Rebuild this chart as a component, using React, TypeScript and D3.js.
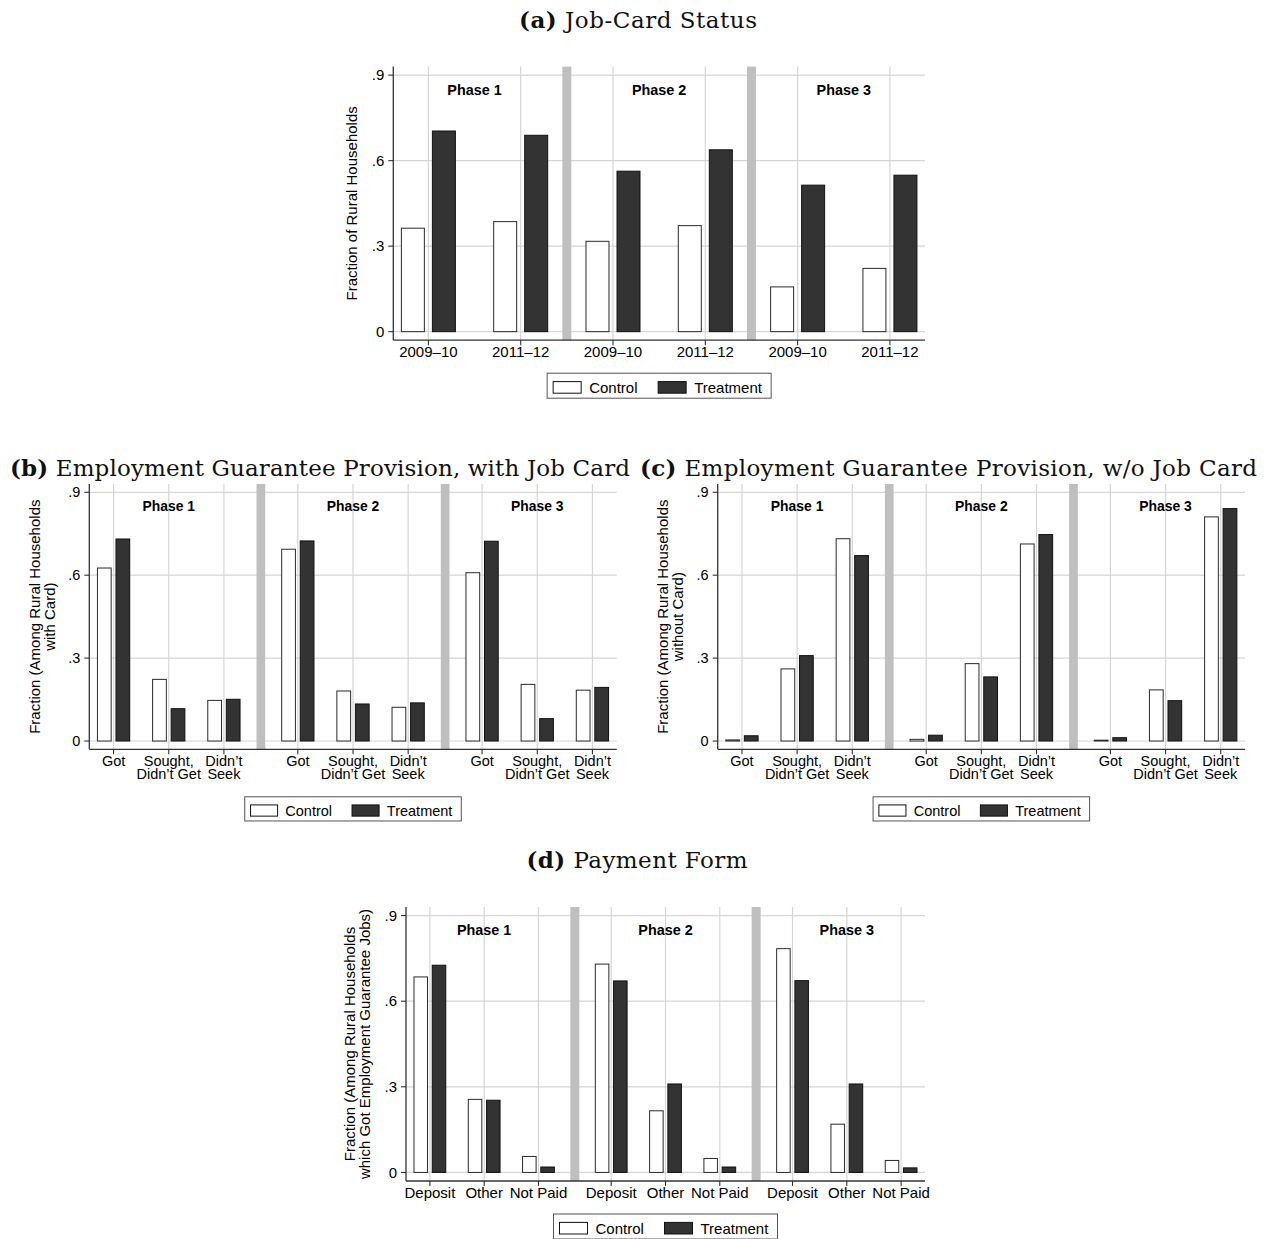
import React from "react";
import * as d3 from "d3";

// ---------- data ----------
const phases = ["Phase 1", "Phase 2", "Phase 3"];
const legendLabels = ["Control", "Treatment"];
const yTicks = [0, 0.3, 0.6, 0.9];
const yTickLabels = ["0", ".3", ".6", ".9"];

// (a) job-card status, by survey round within each phase
const cardPeriods = [["2009–10"], ["2011–12"]];
const cardControl = [0.363, 0.386, 0.317, 0.372, 0.157, 0.222];
const cardTreatment = [0.704, 0.689, 0.563, 0.638, 0.514, 0.549];

// (b)/(c) employment guarantee provision
const provisionCats = [["Got"], ["Sought,", "Didn’t Get"], ["Didn’t", "Seek"]];
const withCardControl = [0.626, 0.223, 0.147, 0.694, 0.181, 0.122, 0.609, 0.205, 0.184];
const withCardTreatment = [0.731, 0.117, 0.151, 0.724, 0.134, 0.138, 0.723, 0.081, 0.194];
const noCardControl = [0.004, 0.261, 0.732, 0.006, 0.28, 0.713, 0.003, 0.185, 0.811];
const noCardTreatment = [0.019, 0.309, 0.671, 0.021, 0.232, 0.747, 0.012, 0.146, 0.841];

// (d) payment form
const paymentCats = [["Deposit"], ["Other"], ["Not Paid"]];
const paymentControl = [0.685, 0.256, 0.056, 0.73, 0.216, 0.049, 0.784, 0.169, 0.042];
const paymentTreatment = [0.726, 0.253, 0.019, 0.671, 0.31, 0.019, 0.672, 0.31, 0.016];

// ---------- styling ----------
const SANS = "'Liberation Sans', Arial, Helvetica, sans-serif";
const SERIF = "'DejaVu Serif', serif";
const GRID = "#d5d5d5";
const SEP = "#bfbfbf";
const AXIS = "#333333";
const DARK = "#333333";

type Box = { left: number; right: number; top: number; bottom: number };

type PanelProps = {
  cats: string[][];
  control: number[];
  treatment: number[];
  box: Box;
  phaseGap: number;
  pad: number;
  font: number;
  titleFont: number;
  yTitle: string[];
  legendGap: number;
};

function Panel({ cats, control, treatment, box, phaseGap, pad, font, titleFont, yTitle, legendGap }: PanelProps) {
  const nPer = cats.length;
  const span = nPer - 1 + phaseGap;
  const positions = d3.range(phases.length * nPer).map((i) => Math.floor(i / nPer) * span + (i % nPer));
  const last = positions[positions.length - 1];
  const x = d3.scaleLinear().domain([-pad, last + pad]).range([box.left, box.right]);
  const y = d3.scaleLinear().domain([-0.03, 0.93]).range([box.bottom, box.top]);
  const unit = x(1) - x(0);
  const bw = unit * 0.249;
  const off = 0.168;
  const s = font / 15;
  const sepW = 9 * s;
  const seps = d3.range(phases.length - 1).map((p) => p * span + (nPer - 1) + phaseGap / 2);
  const phaseCenters = phases.map((_, p) => p * span + (nPer - 1) / 2);

  const series = [
    { vals: control, d: -off, fill: "#ffffff", stroke: "#2a2a2a" },
    { vals: treatment, d: off, fill: DARK, stroke: "#111111" },
  ];

  // legend geometry
  const cx = (box.left + box.right) / 2;
  const lw = 224 * s;
  const lh = 25 * s;
  const lx = cx - lw / 2;
  const ly = box.bottom + legendGap;

  return (
    <g>
      {/* horizontal grid */}
      {yTicks.map((t) => (
        <line key={"h" + t} x1={box.left} x2={box.right} y1={y(t)} y2={y(t)} stroke={GRID} strokeWidth={1.2} />
      ))}
      {/* vertical grid at categories */}
      {positions.map((p, i) => (
        <line key={"v" + i} x1={x(p)} x2={x(p)} y1={box.top} y2={box.bottom} stroke={GRID} strokeWidth={1.2} />
      ))}
      {/* phase separators */}
      {seps.map((p, i) => (
        <rect key={"s" + i} x={x(p) - sepW / 2} y={box.top} width={sepW} height={box.bottom - box.top} fill={SEP} />
      ))}
      {/* bars */}
      {series.map((sr, k) =>
        sr.vals.map((v, i) => (
          <rect
            key={"b" + k + "-" + i}
            x={x(positions[i] + sr.d) - bw / 2}
            y={y(v)}
            width={bw}
            height={y(0) - y(v)}
            fill={sr.fill}
            stroke={sr.stroke}
            strokeWidth={1}
          />
        ))
      )}
      {/* axes */}
      <line x1={box.left} x2={box.left} y1={box.top} y2={box.bottom} stroke={AXIS} strokeWidth={1.3} />
      <line x1={box.left} x2={box.right} y1={box.bottom} y2={box.bottom} stroke={AXIS} strokeWidth={1.3} />
      {yTicks.map((t, i) => (
        <g key={"yt" + t}>
          <line x1={box.left - 5} x2={box.left} y1={y(t)} y2={y(t)} stroke={AXIS} strokeWidth={1.1} />
          <text x={box.left - 9} y={y(t)} dy="0.35em" textAnchor="end" fontFamily={SANS} fontSize={font}>
            {yTickLabels[i]}
          </text>
        </g>
      ))}
      {positions.map((p, i) => {
        const lines = cats[i % nPer];
        return (
          <g key={"xt" + i}>
            <line x1={x(p)} x2={x(p)} y1={box.bottom} y2={box.bottom + 5} stroke={AXIS} strokeWidth={1.1} />
            {lines.map((ln, j) => (
              <text
                key={j}
                x={x(p)}
                y={box.bottom + 17 * s + j * 14 * s}
                textAnchor="middle"
                fontFamily={SANS}
                fontSize={font}
              >
                {ln}
              </text>
            ))}
          </g>
        );
      })}
      {/* phase labels */}
      {phases.map((ph, p) => (
        <text
          key={ph}
          x={x(phaseCenters[p])}
          y={box.top + 28 * s}
          textAnchor="middle"
          fontFamily={SANS}
          fontWeight="bold"
          fontSize={font * 0.96}
        >
          {ph}
        </text>
      ))}
      {/* y title */}
      {yTitle.map((ln, j) => {
        const bx = box.left - 36 * s - (yTitle.length - 1 - j) * 15 * s;
        const by = (box.top + box.bottom) / 2;
        return (
          <text
            key={"yt" + j}
            transform={`translate(${bx},${by}) rotate(-90)`}
            textAnchor="middle"
            fontFamily={SANS}
            fontSize={titleFont}
          >
            {ln}
          </text>
        );
      })}
      {/* legend */}
      <rect x={lx} y={ly} width={lw} height={lh} fill="#fff" stroke="#555" strokeWidth={1} />
      {legendLabels.map((lab, k) => {
        const sx = lx + (k === 0 ? 6 : 111) * s;
        return (
          <g key={lab}>
            <rect
              x={sx}
              y={ly + 8.4 * s}
              width={28 * s}
              height={11.6 * s}
              fill={series[k].fill}
              stroke="#111"
              strokeWidth={1}
            />
            <text x={sx + 36 * s} y={ly + 19.5 * s} fontFamily={SANS} fontSize={font}>
              {lab}
            </text>
          </g>
        );
      })}
    </g>
  );
}

function Title({ x, y, tag, text, width, anchor }: { x: number; y: number; tag: string; text: string; width: number; anchor: string }) {
  return (
    <text
      x={x}
      y={y}
      fontFamily={SERIF}
      fontSize={23}
      textAnchor={anchor}
      textLength={width}
      lengthAdjust="spacing"
      fill="#111"
    >
      <tspan fontWeight="bold">{tag}</tspan>
      <tspan> {text}</tspan>
    </text>
  );
}

export default function App() {
  return (
    <svg
      width={1270}
      height={1239}
      viewBox="0 0 1270 1239"
      style={{ position: "absolute", left: 0, top: 0, background: "#fff" }}
    >
      <rect width={1270} height={1239} fill="#fff" />
      <Title x={638} y={28} tag="(a)" text="Job-Card Status" width={238} anchor="middle" />
      <Title x={10} y={476} tag="(b)" text="Employment Guarantee Provision, with Job Card" width={620} anchor="start" />
      <Title x={640} y={476} tag="(c)" text="Employment Guarantee Provision, w/o Job Card" width={617} anchor="start" />
      <Title x={637} y={868} tag="(d)" text="Payment Form" width={221} anchor="middle" />

      <Panel
        cats={cardPeriods}
        control={cardControl}
        treatment={cardTreatment}
        box={{ left: 393.3, right: 925, top: 66.6, bottom: 340.2 }}
        phaseGap={1}
        pad={0.38}
        font={15}
        titleFont={15}
        yTitle={["Fraction of Rural Households"]}
        legendGap={33}
      />
      <Panel
        cats={provisionCats}
        control={withCardControl}
        treatment={withCardTreatment}
        box={{ left: 89.3, right: 616.7, top: 484, bottom: 749.3 }}
        phaseGap={1.34}
        pad={0.44}
        font={14.5}
        titleFont={15}
        yTitle={["Fraction (Among Rural Households", "with Card)"]}
        legendGap={47.5}
      />
      <Panel
        cats={provisionCats}
        control={noCardControl}
        treatment={noCardTreatment}
        box={{ left: 717.7, right: 1245, top: 484, bottom: 749.3 }}
        phaseGap={1.34}
        pad={0.44}
        font={14.5}
        titleFont={15}
        yTitle={["Fraction (Among Rural Households", "without Card)"]}
        legendGap={47.5}
      />
      <Panel
        cats={paymentCats}
        control={paymentControl}
        treatment={paymentTreatment}
        box={{ left: 406, right: 925, top: 907, bottom: 1181 }}
        phaseGap={1.34}
        pad={0.44}
        font={15}
        titleFont={15}
        yTitle={["Fraction (Among Rural Households", "which Got Employment Guarantee Jobs)"]}
        legendGap={33}
      />
    </svg>
  );
}
